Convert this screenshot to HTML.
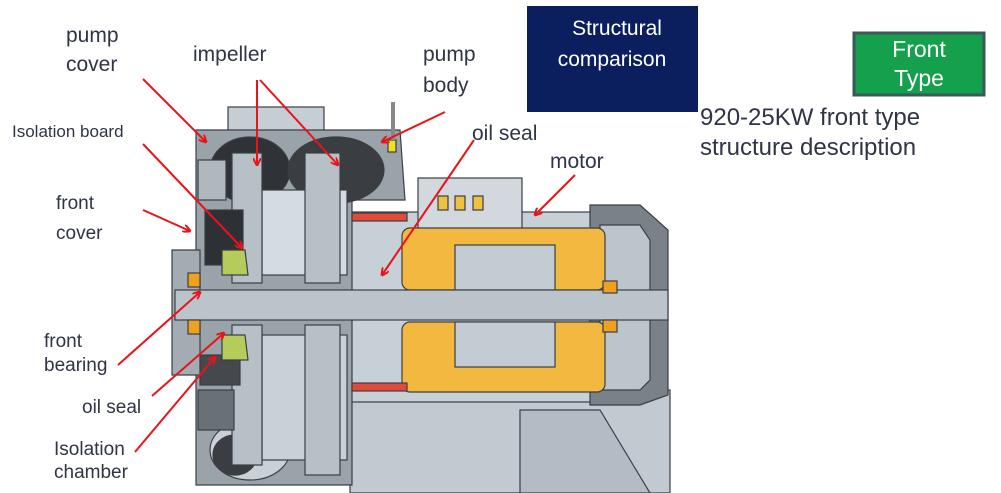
<!DOCTYPE html>
<html><head><meta charset="utf-8"><style>
html,body{margin:0;padding:0;background:#fff;}
svg{display:block;font-family:"Liberation Sans",sans-serif;}
</style></head><body>
<svg width="1001" height="493" viewBox="0 0 1001 493" xmlns="http://www.w3.org/2000/svg">
<defs>
<marker id="ah" markerWidth="8" markerHeight="8" refX="7" refY="4" orient="auto" markerUnits="userSpaceOnUse"><path d="M0,0 L8,4 L0,8" fill="none" stroke="#e8141a" stroke-width="2"/></marker>
</defs>
<rect x="527" y="6" width="171" height="106" fill="#0b1f5e"/>
<text x="617" y="35" font-size="21" fill="#fff" text-anchor="middle">Structural</text>
<text x="612" y="66" font-size="21" fill="#fff" text-anchor="middle">comparison</text>
<rect x="854" y="33" width="130" height="62" fill="#14a04c" stroke="#3a5a5a" stroke-width="3"/>
<text x="919" y="57" font-size="23" fill="#fff" text-anchor="middle">Front</text>
<text x="919" y="86" font-size="23" fill="#fff" text-anchor="middle">Type</text>
<text x="700" y="125" font-size="24" fill="#2f3446">920-25KW front type</text>
<text x="700" y="155" font-size="24" fill="#2f3446">structure description</text>

<g stroke="#3a3f45" stroke-width="1.2">
<path d="M350,390 L670,390 L670,493 L350,493 Z" fill="#c2cad1"/>
<path d="M520,410 L600,410 L650,493 L520,493 Z" fill="#b3bcc4"/>
<rect x="350" y="212" width="260" height="190" fill="#c8d0d7"/>
<rect x="418" y="178" width="104" height="52" fill="#d2d8de"/>
<path d="M590,205 L640,205 L668,230 L668,395 L640,405 L590,405 Z" fill="#7a8188"/>
<path d="M600,225 L640,225 L650,240 L650,380 L640,390 L600,390 Z" fill="#bcc4cc"/>
<rect x="228" y="107" width="96" height="30" fill="#c6ced5"/>
<path d="M196,130 L400,130 L405,200 L352,200 L352,485 L196,485 Z" fill="#9ba3aa"/>
<path d="M172,250 L200,250 L200,375 L172,375 Z" fill="#a4acb3"/>
<ellipse cx="250" cy="170" rx="40" ry="33" fill="#2f3236"/>
<ellipse cx="336" cy="170" rx="48" ry="33" fill="#3a3e43"/>
<ellipse cx="250" cy="450" rx="40" ry="30" fill="#c9d0d6"/>
<ellipse cx="235" cy="455" rx="22" ry="20" fill="#3a3e43"/>
<rect x="262" y="190" width="85" height="85" fill="#d4dbe1"/>
<rect x="262" y="335" width="85" height="125" fill="#c9d1d8"/>
<rect x="232" y="153" width="30" height="130" fill="#b8c0c7"/>
<rect x="305" y="153" width="35" height="130" fill="#b8c0c7"/>
<rect x="232" y="325" width="30" height="140" fill="#b8c0c7"/>
<rect x="305" y="325" width="35" height="150" fill="#b8c0c7"/>
<rect x="205" y="210" width="38" height="55" fill="#2d3034"/>
<rect x="200" y="355" width="40" height="30" fill="#45494e"/>
<rect x="198" y="390" width="36" height="40" fill="#6a7077"/>
<rect x="198" y="160" width="28" height="40" fill="#b0b8bf"/>
<rect x="402" y="228" width="203" height="62" rx="8" fill="#f2b840"/>
<rect x="402" y="322" width="203" height="70" rx="8" fill="#f2b840"/>
<rect x="455" y="245" width="100" height="45" fill="#c4ccd3"/>
<rect x="455" y="322" width="100" height="45" fill="#c4ccd3"/>
<path d="M222,250 L245,250 L248,275 L222,275 Z" fill="#b6cc5a"/>
<path d="M222,335 L245,335 L248,360 L222,360 Z" fill="#b6cc5a"/>
<rect x="352" y="213" width="55" height="8" fill="#e24a3a"/>
<rect x="352" y="383" width="55" height="8" fill="#e24a3a"/>
<rect x="175" y="290" width="493" height="30" fill="#bcc4cb"/>
<rect x="188" y="273" width="12" height="14" fill="#f0a020"/>
<rect x="188" y="320" width="12" height="14" fill="#f0a020"/>
<rect x="603" y="281" width="14" height="12" fill="#f0a020"/>
<rect x="603" y="320" width="14" height="12" fill="#f0a020"/>
<rect x="438" y="196" width="10" height="14" fill="#f0c040"/>
<rect x="455" y="196" width="10" height="14" fill="#f0c040"/>
<rect x="473" y="196" width="10" height="14" fill="#f0c040"/>
<rect x="388" y="140" width="8" height="12" fill="#f0e020"/>
</g>
<line x1="393" y1="102" x2="393" y2="140" stroke="#888" stroke-width="4"/>

<g font-size="21" fill="#2f3446">
<text x="66" y="42">pump</text>
<text x="66" y="71">cover</text>
<text x="193" y="61">impeller</text>
<text x="423" y="61">pump</text>
<text x="423" y="92">body</text>
<text x="472" y="140">oil seal</text>
<text x="550" y="168">motor</text>
<text x="56" y="209" font-size="19">front</text>
<text x="56" y="239" font-size="19">cover</text>
<text x="44" y="347" font-size="19">front</text>
<text x="44" y="371" font-size="19">bearing</text>
<text x="82" y="413" font-size="19">oil seal</text>
<text x="54" y="455" font-size="19">Isolation</text>
<text x="54" y="478" font-size="19">chamber</text>
</g>
<text x="12" y="137" font-size="17" fill="#2f3446">Isolation board</text>

<g stroke="#e8141a" stroke-width="2" fill="none" marker-end="url(#ah)">
<line x1="143" y1="79" x2="206" y2="142"/>
<line x1="257" y1="80" x2="257" y2="165"/>
<line x1="260" y1="80" x2="338" y2="165"/>
<line x1="445" y1="112" x2="382" y2="142"/>
<line x1="143" y1="144" x2="242" y2="248"/>
<line x1="143" y1="210" x2="190" y2="231"/>
<line x1="474" y1="140" x2="382" y2="275"/>
<line x1="575" y1="175" x2="535" y2="215"/>
<line x1="118" y1="365" x2="200" y2="292"/>
<line x1="152" y1="396" x2="224" y2="333"/>
<line x1="135" y1="452" x2="215" y2="357"/>
</g>
</svg>
</body></html>
